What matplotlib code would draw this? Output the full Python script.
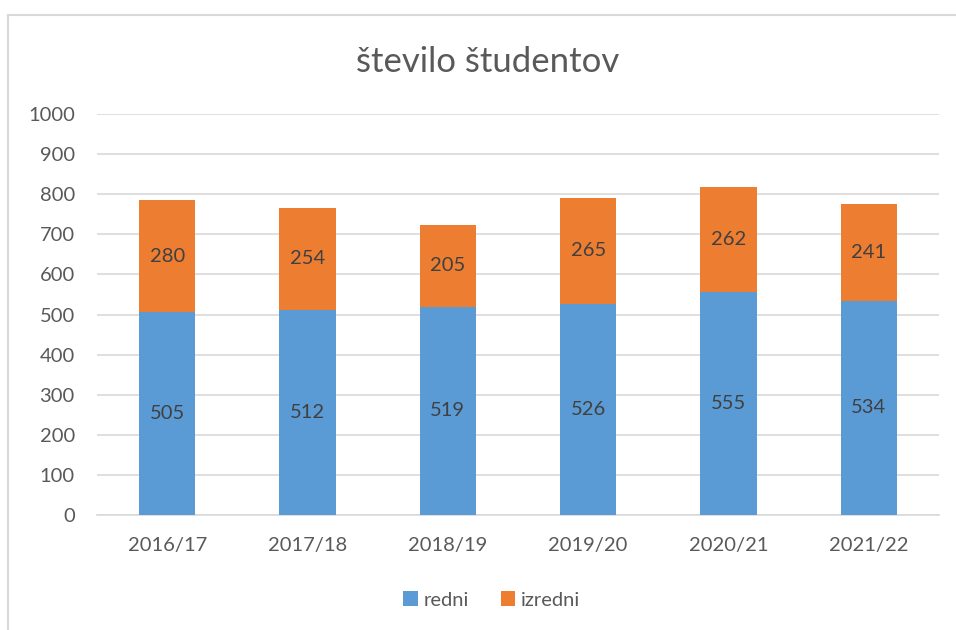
import numpy as np
import matplotlib.pyplot as plt
from matplotlib.lines import Line2D

# Data
leta = ['2016/17', '2017/18', '2018/19', '2019/20', '2020/21', '2021/22']
redni = [505, 512, 519, 526, 555, 534]
izredni = [280, 254, 205, 265, 262, 241]

plt.rcParams['font.family'] = ['Lato', 'DejaVu Sans']

fig = plt.figure(figsize=(9.56, 6.3), dpi=100)
ax = fig.add_axes([97 / 956, 115 / 630, 842 / 956, 401 / 630])

x = np.arange(len(leta))
b1 = ax.bar(x, redni, width=0.4, color='#5B9BD5', label='redni', zorder=3)
b2 = ax.bar(x, izredni, width=0.4, bottom=redni, color='#ED7D31', label='izredni', zorder=3)

for rect, v in zip(b1, redni):
    ax.text(rect.get_x() + rect.get_width() / 2, v / 2, str(v), ha='center', va='center',
            fontsize=14.5, color='#404040', zorder=4)
for rect, v, b in zip(b2, izredni, redni):
    ax.text(rect.get_x() + rect.get_width() / 2, b + v / 2, str(v), ha='center', va='center',
            fontsize=14.5, color='#404040', zorder=4)

ax.set_xlim(-0.5, len(leta) - 0.5)
ax.set_ylim(0, 1000)
ax.set_yticks(range(0, 1001, 100))
ax.set_xticks(x)
ax.set_xticklabels(leta)
ax.grid(axis='y', color='#D9D9D9', linewidth=1.2, zorder=0)
for s in ['top', 'right', 'left']:
    ax.spines[s].set_visible(False)
ax.spines['bottom'].set_color('#D9D9D9')
ax.spines['bottom'].set_linewidth(1.2)
ax.tick_params(axis='both', length=0, labelsize=14.5, colors='#595959')
ax.tick_params(axis='y', pad=16)
ax.tick_params(axis='x', pad=16)

fig.text(488 / 956, 1 - 62 / 630, 'število študentov', ha='center', va='center',
         fontsize=25, color='#595959')

fig.legend(handles=[b1, b2], labels=['redni', 'izredni'], loc='center',
           bbox_to_anchor=(492 / 956, 1 - 600 / 630), ncol=2, frameon=False,
           fontsize=14.5, labelcolor='#595959', handlelength=0.7, handleheight=0.7,
           handletextpad=0.3, columnspacing=1.6)

# outer chart frame (cropped at right and bottom)
fig.add_artist(Line2D([8 / 956, 8 / 956], [0, 1 - 15 / 630], transform=fig.transFigure,
                      color='#D9D9D9', linewidth=1.5))
fig.add_artist(Line2D([8 / 956, 1], [1 - 15 / 630, 1 - 15 / 630], transform=fig.transFigure,
                      color='#D9D9D9', linewidth=1.5))

fig.savefig('out.png', dpi=100)
